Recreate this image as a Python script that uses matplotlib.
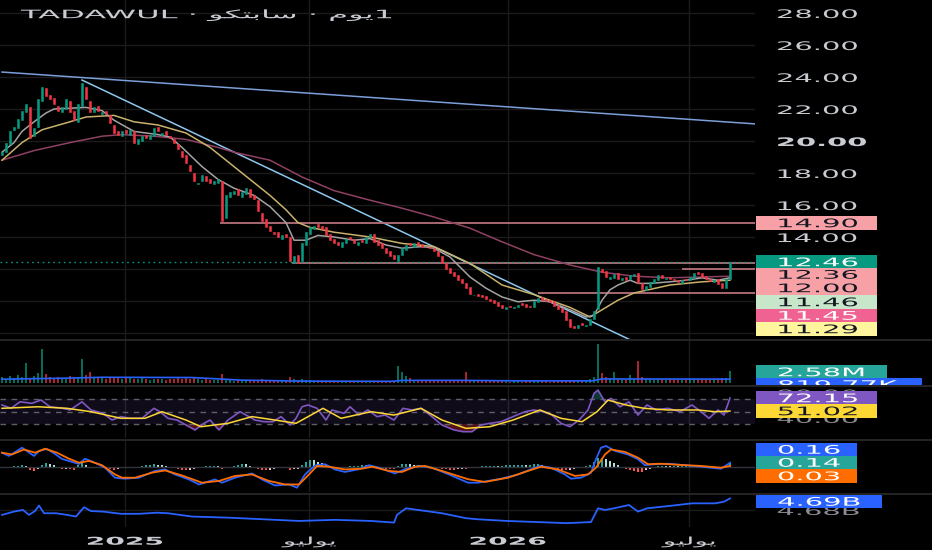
import numpy as np
import matplotlib
matplotlib.use('Agg')
import matplotlib.pyplot as plt
from matplotlib import patheffects
from matplotlib.patches import Rectangle
from matplotlib.transforms import Affine2D
from matplotlib.ticker import FuncFormatter

plt.rcParams['font.family'] = ['DejaVu Sans', 'Noto Sans']

# ---------------- data (one candle = one session step) ----------------
closes = [19.3,19.9,20.6,20.9,21.4,21.9,22.3,20.2,20.8,22.6,
          23.4,22.8,22.6,22.3,21.9,22.1,22.6,21.8,21.3,22.3,
          23.6,22.6,21.8,22.1,21.9,21.8,21.7,21.1,20.5,20.4,
          20.6,20.5,20.7,19.9,20.1,20.3,20.2,20.4,20.8,20.6,
          20.5,20.4,20.2,19.9,19.5,19.0,18.6,18.1,17.5,17.4,
          17.9,17.5,17.4,17.5,17.6,15.0,16.6,16.8,16.9,16.6,
          16.8,17.05,16.5,16.4,15.6,15.0,14.6,14.35,14.2,14.0,
          14.1,14.0,12.5,12.8,12.4,13.6,14.3,14.6,14.7,14.6,
          14.5,14.1,13.8,13.6,13.5,13.7,13.9,13.9,13.6,13.7,
          13.7,14.0,14.2,13.7,13.5,13.3,13.0,12.8,12.6,12.9,
          13.3,13.5,13.5,13.6,13.5,13.4,13.35,13.3,13.15,12.8,
          12.35,12.0,11.75,11.55,11.3,11.1,10.8,10.45,10.4,10.3,
          10.25,10.1,10.0,9.9,9.7,9.55,9.6,9.6,9.65,9.75,
          9.75,9.65,9.6,10.0,10.2,10.05,10.0,9.95,9.7,9.5,
          9.3,8.8,8.4,8.3,8.5,8.5,8.5,8.9,9.4,12.1,
          11.8,11.5,11.5,11.7,11.35,11.45,11.3,11.6,11.7,11.1,
          10.75,10.95,11.2,11.35,11.6,11.45,11.45,11.35,11.3,11.2,
          11.3,11.3,11.5,11.75,11.7,11.5,11.35,11.25,11.3,11.05,
          10.8,11.4,12.46]

opens = [19.1,19.3,19.8,20.7,20.8,21.3,21.8,22.1,20.3,20.9,
         22.5,23.3,22.9,22.7,22.2,21.8,22.0,22.5,21.9,21.2,
         22.2,23.4,22.5,21.8,22.2,21.7,21.9,21.6,21.0,20.6,
         20.3,20.7,20.4,20.6,19.8,20.0,20.4,20.1,20.3,20.9,
         20.4,20.6,20.3,20.1,19.8,19.4,19.1,18.5,18.0,17.3,
         17.5,17.8,17.6,17.3,17.4,17.5,15.2,16.5,16.7,17.0,
         16.5,16.7,17.0,16.6,16.3,15.5,15.1,14.7,14.3,14.3,
         13.9,14.2,14.0,12.4,12.9,12.5,13.5,14.2,14.5,14.8,
         14.7,14.6,14.2,13.9,13.7,13.4,13.6,14.0,13.9,13.5,
         13.8,13.6,14.0,14.2,13.8,13.6,13.3,13.1,12.9,12.5,
         12.9,13.2,13.6,13.4,13.7,13.55,13.4,13.4,13.3,13.1,
         12.8,12.4,12.05,11.8,11.6,11.35,11.15,10.85,10.35,10.45,
         10.35,10.3,10.15,10.05,9.95,9.75,9.5,9.7,9.55,9.6,
         9.85,9.8,9.7,9.6,9.95,10.25,10.1,10.05,10.0,9.75,
         9.55,9.35,8.9,8.45,8.3,8.6,8.45,8.5,8.9,9.5,
         12.0,11.85,11.4,11.45,11.75,11.3,11.5,11.35,11.55,11.75,
         11.15,10.7,10.9,11.15,11.3,11.65,11.4,11.5,11.4,11.3,
         11.15,11.35,11.3,11.45,11.8,11.75,11.55,11.4,11.2,11.35,
         11.1,10.8,11.4]

volumes_m = [1.2,0.9,1.4,1.1,1.6,1.3,4.3,1.0,1.5,2.0,
             7.2,1.8,1.2,1.0,1.3,0.9,1.1,1.4,1.0,1.2,
             5.0,1.6,2.4,1.2,1.0,1.1,0.9,1.3,1.2,1.0,
             0.9,1.1,1.0,0.8,0.9,1.0,0.8,0.7,0.9,0.8,
             0.8,0.7,0.9,0.8,1.0,0.9,1.1,0.8,1.0,0.9,
             0.7,0.8,0.7,0.6,0.7,1.9,0.9,0.6,0.5,0.6,
             0.5,0.6,0.5,0.6,0.7,0.8,0.6,0.5,0.6,0.5,
             0.4,0.5,1.2,0.8,0.7,0.9,0.7,0.6,0.5,0.4,
             0.4,0.5,0.4,0.4,0.3,0.4,0.4,0.3,0.4,0.3,
             0.4,0.3,0.4,0.3,0.3,0.4,0.4,0.5,0.4,3.5,
             2.4,1.5,1.0,0.7,0.6,0.5,0.5,0.4,0.5,0.4,
             0.5,0.6,0.5,0.5,0.6,0.5,2.4,0.6,0.5,0.4,
             0.4,0.5,0.4,0.4,0.5,0.4,0.4,0.3,0.4,0.4,
             0.3,0.4,0.4,0.5,0.6,0.4,0.4,0.3,0.4,0.4,
             0.5,0.6,0.7,0.6,0.5,0.5,0.6,0.8,1.2,8.2,
             2.0,1.3,1.0,2.4,0.9,0.8,0.7,1.7,0.9,4.7,
             1.2,0.9,0.8,0.7,0.9,0.8,0.7,0.8,0.7,0.6,
             0.7,0.6,0.8,0.9,0.7,0.8,0.6,0.7,0.8,0.9,
             1.0,1.1,2.58]

macd_hist = [-0.04,-0.05,-0.02,0.02,0.04,0.05,0.03,-0.12,-0.16,-0.08,
             0.08,0.13,0.12,0.05,-0.06,-0.1,-0.08,-0.11,-0.12,0.06,
             0.13,0.08,-0.02,-0.04,-0.05,-0.07,-0.09,-0.11,-0.12,-0.1,
             -0.06,-0.04,-0.02,-0.05,-0.03,0.02,0.05,0.08,0.1,0.08,
             0.05,0.02,-0.03,-0.07,-0.1,-0.12,-0.13,-0.12,-0.1,-0.06,
             -0.02,0.02,0.03,0.03,0.02,-0.1,-0.06,-0.02,0.04,0.08,
             0.12,0.1,0.04,-0.05,-0.1,-0.14,-0.15,-0.12,-0.1,-0.07,
             -0.06,-0.05,-0.12,-0.1,-0.08,0.06,0.2,0.28,0.26,0.2,
             0.14,0.06,-0.02,-0.06,-0.07,-0.05,-0.02,0.02,0.02,0.03,
             0.05,0.07,0.08,0.04,-0.02,-0.06,-0.09,-0.1,-0.1,0.02,
             0.09,0.11,0.1,0.08,0.05,0.03,0.01,-0.01,-0.03,-0.06,
             -0.09,-0.11,-0.12,-0.12,-0.11,-0.1,-0.1,-0.06,-0.03,0.0,
             0.02,0.03,0.04,0.04,0.03,0.04,0.05,0.06,0.07,0.08,
             0.08,0.07,0.08,0.11,0.12,0.08,0.03,-0.04,-0.08,-0.1,
             -0.12,-0.14,-0.12,-0.09,-0.06,-0.03,0.02,0.08,0.18,0.34,
             0.36,0.3,0.22,0.14,0.06,-0.03,-0.09,-0.12,-0.16,-0.2,
             -0.2,-0.15,-0.08,-0.02,0.03,0.04,0.03,0.02,0.02,0.01,
             0.02,0.03,0.04,0.05,0.04,0.02,-0.02,-0.04,-0.05,-0.06,
             -0.07,0.03,0.13]

# moving averages on price (session, value)
ma_fast_t = [0,3,5,8,11,13,21,25,28,33,39,42,45,50,54,58,63,67,71,73,
             76,79,83,88,92,96,100,105,108,112,117,121,125,129,133,137,142,146,148,150,
             152,154,157,159,162,167,171,175,179,182]
ma_fast_v = [19.3,19.9,20.6,21.2,21.75,22.0,22.1,21.9,21.3,20.6,20.4,20.25,19.6,18.4,17.6,17.05,16.6,15.9,14.9,13.8,
             13.8,14.1,14.0,13.8,13.9,13.5,13.3,13.4,13.3,12.75,11.5,10.8,10.25,9.95,10.05,9.95,9.45,9.0,9.1,10.05,
             10.7,11.0,11.3,11.1,11.1,11.2,11.3,11.45,11.3,11.45]
ma_mid_t = [0,5,10,17,21,28,33,39,46,52,58,67,71,74,77,83,92,100,108,117,
            125,133,142,147,150,154,158,167,175,182]
ma_mid_v = [18.8,19.9,20.7,21.2,21.5,21.6,21.2,21.0,20.5,19.6,18.4,16.6,15.7,14.9,14.6,14.3,14.0,13.6,13.4,12.35,
            11.0,10.4,9.6,9.0,9.45,10.05,10.5,11.0,11.2,11.3]
ma_slow_t = [0,8,17,25,30,38,46,54,58,67,75,83,92,100,108,117,125,133,142,150,158,167,175,182]
ma_slow_v = [18.8,19.4,19.9,20.3,20.4,20.3,20.1,19.6,19.3,18.8,17.75,16.9,16.3,15.8,15.25,14.55,13.7,12.9,12.25,11.8,
             11.55,11.45,11.5,11.55]

# drawn levels and trend lines
level_price = [14.90, 12.40, 12.00, 10.50]
level_from = [54.5, 72.5, 170, 134]
trend_a_t, trend_a_v = [0, 188.75], [24.31, 21.06]
trend_b_t, trend_b_v = [20, 158], [23.81, 7.46]
last_price = 12.46

vol_ma_t = [0,15,25,47.5,60,75,97.5,100,115,130,147.5,150,182]
vol_ma_v = [0.8,1.0,1.2,1.15,0.6,0.4,0.35,0.55,0.55,0.45,0.45,0.85,0.82]

rsi_t = [0,2.25,4.5,7.5,9.75,12,14.75,17,20,22.25,
         25.25,27.5,29.75,32,35,38,39.5,41.5,43.75,46,
         48.25,50.5,52,54.25,56.5,59.5,61,63.25,65.5,67.75,
         69.75,72,73.5,75,76.5,78.75,81,82.5,85.5,87,
         89.25,91.5,93.75,95.75,98,100.25,102.5,104.75,107,110,
         113,115.25,117.5,119.75,122,124.75,127.75,130.75,133,135.25,
         137.5,139.75,142,144.25,146.5,148,149,150.75,152.25,154.5,
         156.75,159,161.25,163.5,166.5,169.5,172.5,174.75,176.75,179,
         180.5,182]
rsi_v = [60.9,55.5,66,63.6,69,58,56,52.8,66,52.8,
         47.4,36.5,42,39.3,39.3,55.5,50,39.3,36.5,28.4,
         20.4,31.2,36.5,20.4,36.5,50,44.6,36.5,33.8,33.8,
         42,28.4,39.3,58,60.9,55.5,36.5,52.8,47.4,58,
         44.6,52.8,42,44.6,36.5,55.5,52.8,55.5,44.6,28.4,
         20.4,17.6,17.6,28.4,31.2,33.8,42,50,52.8,50,
         44.6,31.2,25.7,36.5,52.8,79.8,85,66,71.6,58,
         66,44.6,60.9,52.8,55.5,50,60.9,50,39.3,52.8,
         44.6,72.15]
rsi_ma_t = [0,9,16.25,22.25,29.75,35.75,40,46,49.75,56.5,62.5,68.25,73.5,77.25,80.25,84.75,92.25,
            98,104.75,110,116,122,127.75,134.5,139.75,145,148.75,151.5,156,160.5,166.5,174,178.25,182]
rsi_ma_v = [55.5,58,55.5,50,39.3,39.3,50,36.5,25.7,31.2,42,36.5,31.2,44.6,55.5,39.3,50,
            44.6,55.5,36.5,23,25.7,36.5,52.8,39.3,33.8,50,68.8,60.9,55.5,52.8,52.8,50,51.02]

macd_t = [0,1.75,5,8,9.25,11.25,13.25,15,19.25,20.75,
          23.25,25.75,28.25,30.75,34.25,38.25,40.75,43.25,46.75,49.25,
          53.25,55,58.25,62.5,65,68.25,71.75,73.75,75.75,78.25,
          80.75,83.25,85.75,89.25,91.75,94.25,98.25,100.75,104.25,107.5,
          111.75,116.5,119,124.75,129,133.25,134.5,137.25,140.75,142.25,
          144.75,147.25,148.5,149.75,151,153.25,156.5,159,160.75,163.25,
          166.5,170.75,174.75,179.75,181.5,182]
macd_v = [0.56,0.43,0.76,0.43,0.63,0.71,0.51,0.31,0.11,0.32,
          0.16,-0.04,-0.44,-0.48,-0.44,-0.17,-0.11,-0.31,-0.51,-0.71,
          -0.51,-0.64,-0.44,-0.27,-0.51,-0.75,-0.71,-0.84,-0.31,0.05,
          0.1,-0.11,-0.21,-0.1,0.06,-0.04,-0.27,-0.1,0.03,-0.04,
          -0.31,-0.64,-0.64,-0.48,-0.31,-0.04,0.03,-0.04,-0.31,-0.48,
          -0.44,-0.24,0.3,0.76,0.83,0.63,0.49,0.3,0.06,0.1,
          0.12,0.06,0,-0.08,0.1,0.16]
signal_t = [0,2.5,5.5,8.25,10.75,13.75,16.75,19.25,21.75,25,
            28.25,30,33.25,37.5,40.75,45,50,54.25,58.25,62.5,
            66.75,70.75,74.25,76.75,78.75,81.75,85.75,90,92.5,96.75,
            100,103.25,105.75,110,116.5,120.75,126.5,131.5,134.75,139,
            143.25,146.5,148.5,150.75,152.25,155.75,159,161.5,164.75,169.75,
            174.75,179.75,182]
signal_v = [0.56,0.49,0.69,0.56,0.72,0.56,0.32,0.16,0.23,0.06,
            -0.31,-0.44,-0.44,-0.24,-0.15,-0.35,-0.64,-0.57,-0.37,-0.31,
            -0.57,-0.71,-0.71,-0.31,0.03,0,-0.11,-0.08,0,-0.17,
            -0.21,0,0.03,-0.17,-0.5,-0.61,-0.44,-0.17,0,-0.11,
            -0.37,-0.31,-0.04,0.49,0.69,0.59,0.36,0.1,0.12,0.07,
            0.03,-0.04,0.03]

obv_t = [0,3,5.25,6.75,8.25,9.25,10.5,13.5,16.25,18.5,
         20.5,22.25,25.25,29.75,34.25,38.75,41.5,47.5,56.5,65.5,
         74.25,83.25,92.25,98,98.75,101,104,110,116,119,
         126.25,133.75,141.25,147.25,149,150.75,153,156.75,159,161.25,
         166.5,172.5,178.25,180.5,182]
obv_b = [4.6755,4.6785,4.680,4.6755,4.679,4.684,4.677,4.677,4.6755,4.674,
         4.6825,4.679,4.6785,4.6765,4.6765,4.6775,4.677,4.674,4.673,4.6715,
         4.670,4.671,4.670,4.6685,4.6755,4.6815,4.680,4.677,4.6725,4.6715,
         4.670,4.669,4.668,4.669,4.6815,4.680,4.6815,4.6845,4.6785,4.6815,
         4.6835,4.686,4.686,4.6875,4.6905]

JUL = '\uFEEE\uFEF4\uFEDF\uFEEE\uFEF3'
tick_pos = [30.75, 76.75, 126.5, 171.75]
tick_labels = ['2025', JUL, '2026', JUL]
title = 'TADAWUL \u00b7 ' + '\uFEEE\uFEDC\uFE98\uFE91\uFE8E\uFEB3' + ' \u00b7 ' + '\uFEE1\uFEEE\uFEF31'

assert len(opens) == len(closes) == len(volumes_m) == len(macd_hist)
for a, b in [(ma_fast_t, ma_fast_v), (ma_mid_t, ma_mid_v), (ma_slow_t, ma_slow_v), (vol_ma_t, vol_ma_v),
             (rsi_t, rsi_v), (rsi_ma_t, rsi_ma_v), (macd_t, macd_v), (signal_t, signal_v), (obv_t, obv_b)]:
    assert len(a) == len(b), (len(a), len(b))

UP, DOWN = '#089981', '#f23645'
GRID = '#1b1b1b'
TXT = '#c9ccd3'


class Stretch(patheffects.AbstractPathEffect):
    """draw the glyphs wider, like the stretched screenshot"""
    def __init__(self, sx, anchor='left'):
        super().__init__()
        self.sx = sx
        self.anchor = anchor

    def draw_path(self, renderer, gc, tpath, affine, rgbFace=None):
        ext = tpath.get_extents()
        cx = {'left': ext.x0, 'center': (ext.x0 + ext.x1) / 2, 'right': ext.x1}[self.anchor]
        st = Affine2D().translate(-cx, 0).scale(self.sx, 1).translate(cx, 0)
        renderer.draw_path(gc, tpath, st + affine, rgbFace)


W, H = 932, 550
PLOT_W = 755
fig = plt.figure(figsize=(W / 100, H / 100), dpi=100, facecolor='black')


def pane(top, bottom):
    ax = fig.add_axes([0, 1 - bottom / H, PLOT_W / W, (bottom - top) / H])
    ax.set_facecolor('black')
    for s in ax.spines.values():
        s.set_visible(False)
    ax.set_xlim(-0.5, 188.25)
    ax.set_xticks(tick_pos)
    ax.tick_params(axis='x', length=0, labelbottom=False)
    ax.tick_params(axis='y', length=0, labelleft=False, labelright=False)
    ax.grid(axis='x', color=GRID, lw=1)
    ax.set_axisbelow(True)
    return ax


t = np.arange(len(closes))
o = np.array(opens)
c = np.array(closes)
cols = np.where(c >= o, UP, DOWN)

# ---- price pane ----
ax = pane(0, 339)
ax.set_ylim(7.625, 28.8125)
ax.set_yticks(np.arange(8, 29, 2))
ax.grid(axis='y', color=GRID, lw=1)
ax.yaxis.tick_right()
ax.yaxis.set_major_formatter(FuncFormatter(lambda v, p: f'{v:.2f}' if v >= 14 else ''))
ax.tick_params(axis='y', labelright=True, pad=16, labelsize=8.5, labelcolor=TXT)

ax.plot(trend_a_t, trend_a_v, color='#7b9fd9', lw=1.1)
ax.plot(trend_b_t, trend_b_v, color='#8ec7ee', lw=1.1)
for lp, lf in zip(level_price, level_from):
    ax.hlines(lp, lf, 188.25, color='#b5707a', lw=1.3)
ax.axhline(last_price, color=UP, lw=1, ls=(0, (1.2, 2.6)))
ax.plot(ma_slow_t, ma_slow_v, color='#8e4162', lw=1.1)
ax.plot(ma_mid_t, ma_mid_v, color='#c9b26b', lw=1.1)
ax.plot(ma_fast_t, ma_fast_v, color='#a3a3a3', lw=1.1)
ax.bar(t, c - o, bottom=o, width=0.52, color=cols, edgecolor=cols, lw=0.4, zorder=3)
ax_price = ax

# ---- volume pane ----
ax = pane(340, 384)
ax.set_ylim(-0.21, 9.03)
ax.bar(t, volumes_m, width=0.5, color=cols, alpha=0.7)
ax.plot(vol_ma_t, vol_ma_v, color='#2962ff', lw=1.2)

# ---- RSI pane ----
ax = pane(386, 438)
ax.set_ylim(7.4, 91.65)
ax.axhspan(30, 70, color='#7e57c2', alpha=0.13, lw=0)
for lv in (30, 50, 70):
    ax.axhline(lv, color='#5d6069', lw=1, ls=(0, (4, 4)))
rv = np.array(rsi_v)
ax.fill_between(rsi_t, rv, 70, where=rv >= 70, interpolate=True, color='#26a69a', alpha=0.35, lw=0)
ax.fill_between(rsi_t, rv, 30, where=rv <= 30, interpolate=True, color='#f23645', alpha=0.35, lw=0)
ax.plot(rsi_t, rsi_v, color='#7e57c2', lw=1.2)
ax.plot(rsi_ma_t, rsi_ma_v, color='#fdd835', lw=1.1)
ax.yaxis.tick_right()
ax.set_yticks([40, 80])
ax.set_yticklabels(['40.00', '80.00'])
ax.tick_params(axis='y', labelright=True, pad=16, labelsize=8.5, labelcolor='#8a8d94')
ax_rsi = ax

# ---- MACD pane ----
ax = pane(440, 492)
ax.set_ylim(-1.012, 1.068)
ax.axhline(0, color='#30333b', lw=1)
hcols = []
prev = 0.0
for h in macd_hist:
    if h >= 0:
        hcols.append('#26a69a' if h >= prev else '#b2dfdb')
    else:
        hcols.append('#ff5252' if h <= prev else '#ffcdd2')
    prev = h
ax.bar(t, macd_hist, width=0.5, color=hcols)
ax.plot(macd_t, macd_v, color='#2962ff', lw=1.3)
ax.plot(signal_t, signal_v, color='#ff6d00', lw=1.3)

# ---- OBV pane ----
ax = pane(494, 527)
ax.set_ylim(4.6645, 4.6945)
ax.set_yticks([4.68])
ax.grid(axis='y', color=GRID, lw=1)
ax.yaxis.tick_right()
ax.set_yticklabels(['4.68B'])
ax.tick_params(axis='y', labelright=True, pad=16, labelsize=8.5, labelcolor='#8a8d94')
ax.plot(obv_t, obv_b, color='#2962ff', lw=1.3)
ax.set_xticklabels(tick_labels)
ax.tick_params(axis='x', labelbottom=True, pad=7, labelsize=7.8, labelcolor=TXT)
for lab in ax.get_xticklabels():
    lab.set_path_effects([Stretch(2.6, 'center')])
    if lab.get_text().isdigit():
        lab.set_fontweight('bold')
ax_obv = ax

for a in (ax_price, ax_rsi, ax_obv):
    for lab in a.get_yticklabels():
        if lab.get_text():
            lab.set_path_effects([Stretch(2.45)])
            if lab.get_text() == '20.00':
                lab.set_fontweight('bold')

# ---- overlay in pixel coordinates: title, value boxes, pane separators ----
ov = fig.add_axes([0, 0, 1, 1], zorder=10)
ov.set_xlim(0, W)
ov.set_ylim(H, 0)
ov.axis('off')
ov.patch.set_alpha(0)

ov.text(21, 18.2, title, color='#c9ccd3', fontsize=8.4, va='baseline',
        path_effects=[Stretch(2.75)])


def value_box(yc, text, face, fg, x1, h=13.4, clip=None):
    r = Rectangle((755.5, yc - h / 2), x1 - 755.5, h, facecolor=face, edgecolor='none')
    ov.add_patch(r)
    tx = ov.text(778, yc + 4.2, text, color=fg, fontsize=8.5, va='baseline',
                 path_effects=[Stretch(2.45)])
    if clip is not None:
        r.set_clip_path(clip)
        tx.set_clip_on(True)
        tx.set_clip_path(clip)


DARK = '#131722'
value_box(223, '14.90', '#f7a1a6', DARK, 877)
value_box(262, '12.46', '#089981', 'white', 877)
value_box(274.5, '12.36', '#f7a1a6', DARK, 877)
value_box(288, '12.00', '#f7a1a6', DARK, 877)
value_box(302, '11.46', '#c8e6c9', DARK, 877)
value_box(315.5, '11.45', '#f06292', 'white', 877)
value_box(329, '11.29', '#fff59d', DARK, 877)

value_box(372, '2.58M', '#26a69a', 'white', 887)
clip = Rectangle((755, 378), 180, 7, transform=ov.transData)
value_box(384.7, '819.77K', '#2962ff', 'white', 922, clip=clip)

value_box(398, '72.15', '#7e57c2', 'white', 877)
value_box(411, '51.02', '#fdd835', DARK, 877)

value_box(449.5, '0.16', '#2962ff', 'white', 857)
value_box(462.5, '0.14', '#26a69a', 'white', 857)
value_box(476, '0.03', '#ff6d00', 'white', 857)

value_box(501.5, '4.69B', '#2962ff', 'white', 882)

ov.hlines([339.5, 385.5, 439.5, 493.5], 0, W, color='#2b2b2b', lw=1.2)

fig.savefig('out.png', dpi=100, facecolor='black')
